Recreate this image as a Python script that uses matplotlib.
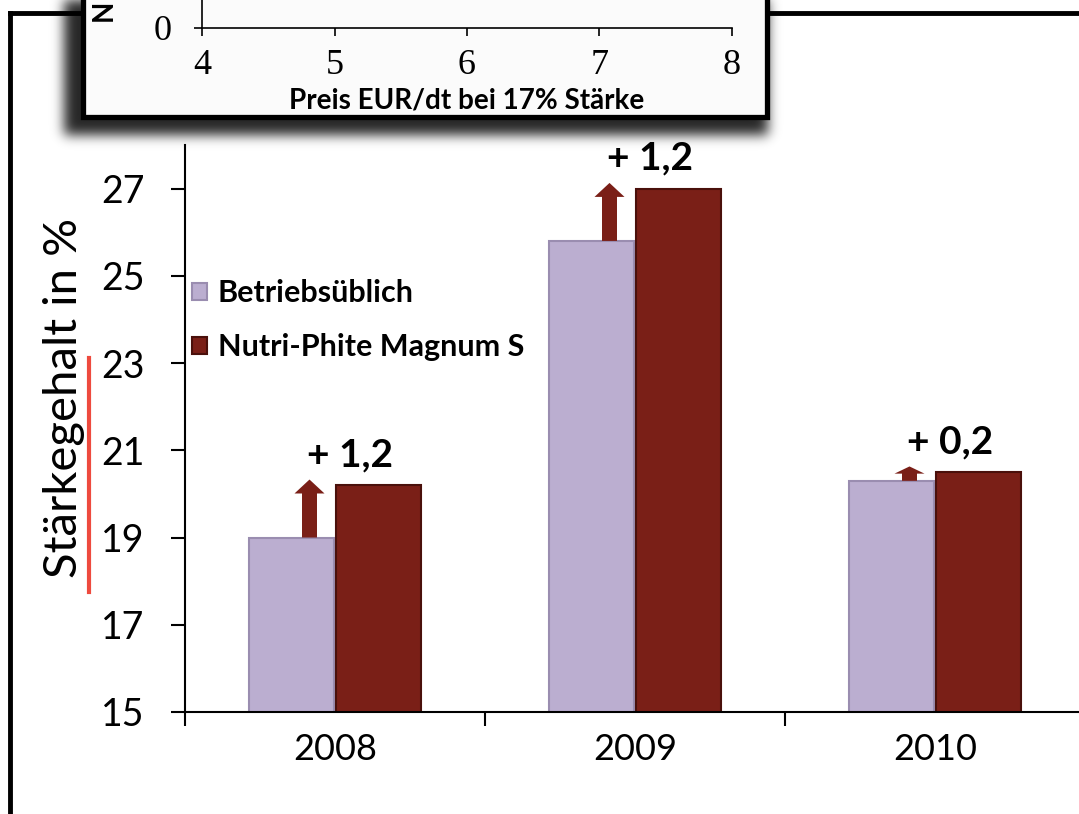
import numpy as np
import matplotlib
matplotlib.use('Agg')
import matplotlib.pyplot as plt
from matplotlib.patches import Rectangle
from matplotlib.lines import Line2D

# daten
jahre = ['2008', '2009', '2010']
betriebsueblich = [19.0, 25.8, 20.3]
nutri_phite = [20.2, 27.0, 20.5]
differenz = ['+ 1,2', '+ 1,2', '+ 0,2']
serien = ['Betriebsüblich', 'Nutri-Phite Magnum S']
y_ticks = [15, 17, 19, 21, 23, 25, 27]
inset_ticks = [4, 5, 6, 7, 8]

hell = '#BBAED0'
dunkel = '#7A1F17'

W, H = 1079, 814
plt.rcParams['font.family'] = ['Lato', 'DejaVu Sans']
fig = plt.figure(figsize=(W / 100, H / 100), dpi=100)


def fx(px):
    return px / W


def fy(py):
    return 1 - py / H


# hauptdiagramm
ax = fig.add_axes([fx(185), fy(712), fx(1085) - fx(185), fy(145) - fy(712)], zorder=0)
x = np.arange(len(jahre))
w = 0.285
b1 = ax.bar(x - 0.145, betriebsueblich, w, color=hell, edgecolor='#9A8DB0', lw=1.5, label=serien[0])
b2 = ax.bar(x + 0.145, nutri_phite, w, color=dunkel, edgecolor='#4A100B', lw=1.5, label=serien[1])

for i in range(len(jahre)):
    laenge = nutri_phite[i] + 0.13 - betriebsueblich[i]
    kopf = min(0.32, 0.5 * laenge)
    ax.arrow(x[i] - 0.085, betriebsueblich[i], 0, laenge, width=0.05, head_width=0.1,
             head_length=kopf, length_includes_head=True, color=dunkel, lw=0, zorder=3)
    ax.text(x[i] + 0.05, nutri_phite[i] + 0.7, differenz[i], ha='center', va='center',
            fontsize=28, fontweight='bold')

ax.set_ylim(15, 28)
ax.set_xlim(-0.5, 2.48)
ax.set_yticks(y_ticks)
ax.set_xticks([-0.5, 0.5, 1.5, 2.5])
ax.set_xticklabels([])
ax.set_xticks(x, minor=True)
ax.set_xticklabels(jahre, minor=True)
ax.tick_params(axis='y', labelsize=27, length=10, width=1.5, pad=19)
ax.tick_params(axis='x', which='major', length=10, width=1.5)
ax.tick_params(axis='x', which='minor', length=0, labelsize=26, pad=15)
for s in ['top', 'right']:
    ax.spines[s].set_visible(False)
for s in ['left', 'bottom']:
    ax.spines[s].set_linewidth(1.5)

ax.legend(loc='upper left', bbox_to_anchor=(-0.006, 0.785), frameon=False,
          prop={'weight': 'bold', 'size': 22}, handlelength=0.5, handleheight=0.5,
          handletextpad=0.35, labelspacing=0.85, borderaxespad=0)

# hintergrund: rahmen, schatten, kasten
bg = fig.add_axes([0, 0, 1, 1], zorder=1)
bg.set_xlim(0, W)
bg.set_ylim(H, 0)
bg.axis('off')
bg.patch.set_alpha(0)

maske = np.zeros((H, W))
maske[0:135, 64:768] = 1.0
kern = np.exp(-0.5 * (np.arange(-25, 26) / 6.0) ** 2)
kern /= kern.sum()
maske = np.apply_along_axis(lambda r: np.convolve(r, kern, mode='same'), 1, maske)
maske = np.apply_along_axis(lambda c: np.convolve(c, kern, mode='same'), 0, maske)
schatten = np.zeros((H, W, 4))
schatten[..., 3] = maske * 0.85
bg.imshow(schatten, extent=(0, W, H, 0), aspect='auto', zorder=1)

bg.add_line(Line2D([10, 10], [13, H + 10], color='black', lw=3.5, zorder=0.5))
bg.add_line(Line2D([10, 90], [13, 13], color='black', lw=3.5, zorder=0.5))
bg.add_line(Line2D([760, W + 10], [13, 13], color='black', lw=3.5, zorder=0.5))
bg.add_patch(Rectangle((83, -30), 684, 147, facecolor='#FBFBFB', edgecolor='black', lw=3.8, zorder=2))
bg.text(104, 10, 'N', rotation=90, ha='center', va='center', fontsize=20, fontweight='bold', zorder=3)

bg.add_line(Line2D([89, 89], [358, 592], color='#EE4A3E', lw=3, zorder=3))
bg.text(64, 398, 'Stärkegehalt in %', rotation=90, ha='center', va='center', fontsize=34, zorder=3)

# einsatz oben
ins = fig.add_axes([fx(202), fy(28), fx(732) - fx(202), 0.1], zorder=2)
ins.patch.set_alpha(0)
ins.set_xlim(4, 8)
ins.set_ylim(0, 10)
ins.set_xticks(inset_ticks)
ins.set_yticks([0])
for s in ['top', 'right']:
    ins.spines[s].set_visible(False)
for s in ['left', 'bottom']:
    ins.spines[s].set_linewidth(1.2)
ins.tick_params(length=6, width=1.2, labelsize=26, labelfontfamily='Liberation Serif')
ins.tick_params(axis='x', pad=9)
ins.tick_params(axis='y', pad=16)
ins.set_xlabel('Preis EUR/dt bei 17% Stärke', fontsize=20, fontweight='bold', labelpad=4)

fig.savefig('out.png', dpi=100)
